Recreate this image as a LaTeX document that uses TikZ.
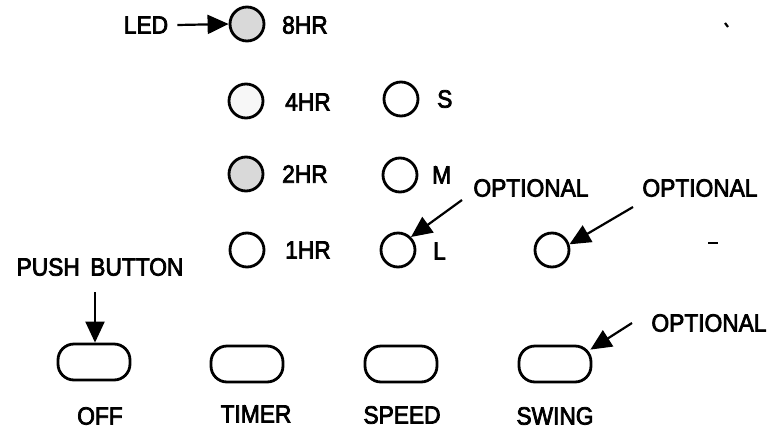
\documentclass[tikz,border=0pt]{standalone}
\usepackage{fontspec}
\setmainfont{Liberation Sans}
\newfontfamily\panelfont[FakeStretch=0.91,FakeBold=3]{Liberation Sans}
\usetikzlibrary{arrows.meta}
\begin{document}
\begin{tikzpicture}[x=1pt,y=-1pt,
  txt/.style={inner sep=0pt,font=\panelfont\fontsize{25}{29}\selectfont},
  lbl/.style={txt,anchor=west},
  led/.style={circle,draw,line width=2.8pt,minimum size=34pt,inner sep=0pt},
  btn/.style={rectangle,rounded corners=16pt,draw,line width=2.8pt,minimum width=72pt,minimum height=36pt,inner sep=0pt},
  ptr/.style={line width=2.2pt,-{Triangle[length=21pt,width=19pt]}},
  speck/.style={line width=2.2pt}]
\useasboundingbox (0,0) rectangle (774,429);
% LEDs
\node[led,fill=gray!30] (c8) at (247,24) {};
\node[led,fill=gray!6] (c4) at (246,101) {};
\node[led,fill=gray!30] (c2) at (246,174) {};
\node[led] (c1) at (247,250) {};
\node[led] (cS) at (401,99) {};
\node[led] (cM) at (400,175) {};
\node[led] (cL) at (398,250) {};
\node[led] (cO) at (552,250) {};
% LED labels
\node[lbl] (t8) at (282,25) {8HR};
\node[lbl] (t4) at (285,102) {4HR};
\node[lbl] (t2) at (282,174) {2HR};
\node[lbl] (t1) at (285,250) {1HR};
\node[lbl] (tS) at (437,99) {S};
\node[lbl] (tM) at (432,175) {M};
\node[lbl] (tL) at (433,251) {L};
% callouts
\node[txt] (ledtxt) at (146,25) {LED};
\node[txt] (opt1) at (531,188) {OPTIONAL};
\node[txt] (opt2) at (700,188) {OPTIONAL};
\node[txt] (opt3) at (709,323) {OPTIONAL};
\node[txt] (push) at (100,267) {PUSH\hspace{0.42em}BUTTON};
\coordinate (o1tail) at (462,200);
\coordinate (o2tail) at (633,207);
\coordinate (o3tail) at (632,323);
\coordinate (pbtail) at (95,292);
% buttons
\node[btn] (off) at (94,362) {};
\node[btn] (timer) at (247,364) {};
\node[btn] (speed) at (401,364) {};
\node[btn] (swing) at (555,364) {};
\node[txt] (toff) at (100,416) {OFF};
\node[txt] (ttimer) at (256,414) {TIMER};
\node[txt] (tspeed) at (402,415) {SPEED};
\node[txt] (tswing) at (555,416) {SWING};
% arrows
\draw[ptr] (ledtxt.east) ++(9,0) -- (c8.west);
\draw[ptr] (o1tail) -- (cL.north east);
\draw[ptr] (o2tail) -- (cO.18);
\draw[ptr] (o3tail) -- ([shift={(-2,5)}]swing.north east);
\draw[ptr] (pbtail) -- (pbtail |- off.north);
% specks
\draw[speck] (708,243) -- (718,243);
\draw[speck] (725,23) -- (728,27);
\end{tikzpicture}
\end{document}
